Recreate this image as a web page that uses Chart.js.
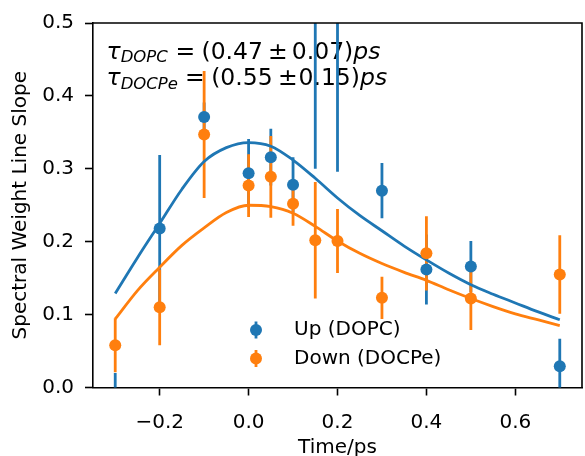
<!DOCTYPE html>
<html>
<head>
<meta charset="utf-8">
<script src="https://cdn.jsdelivr.net/npm/chart.js@4.4.1/dist/chart.umd.min.js"></script>
<style>
  html, body { margin: 0; padding: 0; background: #fff; overflow: hidden; }
  #wrap { position: relative; width: 588px; height: 456px; }
</style>
</head>
<body>
<div id="wrap"><canvas id="chart"></canvas></div>
<script>
// measured points
const times = [-0.3, -0.2, -0.1, 0, 0.05, 0.1, 0.15, 0.2, 0.3, 0.4, 0.5, 0.7];
const upVals = [-0.03, 0.218, 0.371, 0.294, 0.316, 0.278, 0.56, 0.55, 0.270, 0.162, 0.166, 0.029];
const upErr = [0.05, 0.101, 0.02, 0.047, 0.039, 0.038, 0.26, 0.254, 0.038, 0.048, 0.035, 0.038];
const downVals = [0.058, 0.110, 0.347, 0.277, 0.289, 0.252, 0.202, 0.201, 0.123, 0.184, 0.122, 0.155];
const downErr = [0.037, 0.052, 0.087, 0.043, 0.056, 0.030, 0.080, 0.044, 0.029, 0.051, 0.043, 0.054];

// fit curves
const fitTimes = [-0.3, -0.25, -0.2, -0.15, -0.1, -0.05, 0, 0.05, 0.1, 0.15, 0.2, 0.25, 0.3, 0.35, 0.4, 0.45, 0.5, 0.55, 0.6, 0.65, 0.7];
const upFit = [0.129, 0.178, 0.225, 0.272, 0.310, 0.329, 0.336, 0.331, 0.312, 0.287, 0.260, 0.236, 0.215, 0.194, 0.175, 0.157, 0.141, 0.128, 0.116, 0.104, 0.093];
const downFit = [0.094, 0.133, 0.165, 0.195, 0.219, 0.240, 0.250, 0.248, 0.239, 0.221, 0.201, 0.184, 0.170, 0.158, 0.147, 0.134, 0.122, 0.111, 0.101, 0.093, 0.085];

const xTicks = [-0.2, 0, 0.2, 0.4, 0.6];
const xTickLabels = ["\u22120.2", "0.0", "0.2", "0.4", "0.6"];
const yTicks = [0, 0.1, 0.2, 0.3, 0.4, 0.5];
const yTickLabels = ["0.0", "0.1", "0.2", "0.3", "0.4", "0.5"];

const seriesNames = ["Up (DOPC)", "Down (DOCPe)"];
const tauSubs = ["DOPC", "DOCPe"];
const tauMeans = ["(0.47", "(0.55"];
const tauErrs = ["0.07)", "0.15)"];

const BLUE = "#1f77b4";
const ORANGE = "#ff7f0e";
const FONT = '"DejaVu Sans"';

const pts = (xs, ys) => xs.map((x, i) => ({ x: x, y: ys[i] }));

// tau annotation, under the data (mathtext-like spacing)
const tauText = {
  id: "tauText",
  beforeDatasetsDraw(chart) {
    const ctx = chart.ctx;
    ctx.save();
    ctx.fillStyle = "#000";
    ctx.textBaseline = "alphabetic";
    ctx.textAlign = "left";
    const rows = [
      { y: 58.5, eq: 175.5, mean: 201.5, pm: 268, err: 291.8 },
      { y: 85.2, eq: 185, mean: 211.2, pm: 278, err: 298.5 }
    ];
    rows.forEach((r, i) => {
      ctx.font = "italic 23.5px " + FONT;
      ctx.fillText("\u03c4", 106.5, r.y);
      const tw = ctx.measureText("\u03c4").width;
      ctx.font = "italic 16.5px " + FONT;
      ctx.fillText(tauSubs[i], 106.5 + tw, r.y + 3.4);
      ctx.font = "23.5px " + FONT;
      ctx.fillText("=", r.eq, r.y);
      ctx.fillText(tauMeans[i], r.mean, r.y);
      ctx.fillText("\u00b1", r.pm, r.y);
      ctx.fillText(tauErrs[i], r.err, r.y);
      const ew = ctx.measureText(tauErrs[i]).width;
      ctx.font = "italic 23.5px " + FONT;
      ctx.fillText("ps", r.err + ew, r.y);
    });
    ctx.restore();
  }
};

// vertical error bars, under the markers
const errorBars = {
  id: "errorBars",
  beforeDatasetsDraw(chart) {
    const { ctx, chartArea: a, scales: { x, y } } = chart;
    ctx.save();
    ctx.beginPath();
    ctx.rect(a.left, a.top, a.right - a.left, a.bottom - a.top);
    ctx.clip();
    chart.data.datasets.forEach(ds => {
      if (!ds.errors) return;
      ctx.strokeStyle = ds.backgroundColor;
      ctx.lineWidth = 2.8;
      ds.data.forEach((p, i) => {
        const px = x.getPixelForValue(p.x);
        ctx.beginPath();
        ctx.moveTo(px, y.getPixelForValue(p.y - ds.errors[i]));
        ctx.lineTo(px, y.getPixelForValue(p.y + ds.errors[i]));
        ctx.stroke();
      });
    });
    ctx.restore();
  }
};

// legend inside the axes + top spine
const innerLegend = {
  id: "innerLegend",
  afterDatasetsDraw(chart) {
    const { ctx, chartArea: a } = chart;
    ctx.save();
    const colors = [BLUE, ORANGE];
    seriesNames.forEach((name, i) => {
      const cy = 330 + i * 28.5;
      ctx.strokeStyle = colors[i];
      ctx.lineWidth = 2.8;
      ctx.beginPath();
      ctx.moveTo(256, cy - 8.5);
      ctx.lineTo(256, cy + 8.5);
      ctx.stroke();
      ctx.fillStyle = colors[i];
      ctx.beginPath();
      ctx.arc(256, cy, 6, 0, Math.PI * 2);
      ctx.fill();
      ctx.fillStyle = "#000";
      ctx.font = "20px " + FONT;
      ctx.textBaseline = "middle";
      ctx.fillText(name, 294, cy);
    });
    ctx.strokeStyle = "#000";
    ctx.lineWidth = 1.6;
    ctx.beginPath();
    ctx.moveTo(a.left - 0.8, a.top);
    ctx.lineTo(a.right, a.top);
    ctx.lineTo(a.right, a.bottom);
    ctx.stroke();
    ctx.restore();
  }
};

Chart.defaults.font.family = FONT;
Chart.defaults.font.size = 20;
Chart.defaults.color = "#000";

new Chart(document.getElementById("chart"), {
  type: "scatter",
  data: {
    datasets: [
      {
        label: seriesNames[0],
        data: pts(times, upVals),
        errors: upErr,
        backgroundColor: BLUE,
        borderWidth: 0,
        pointRadius: 6,
        clip: 0,
        order: 2
      },
      {
        label: seriesNames[1],
        data: pts(times, downVals),
        errors: downErr,
        backgroundColor: ORANGE,
        borderWidth: 0,
        pointRadius: 6,
        clip: 0,
        order: 1
      },
      {
        type: "line",
        label: "fit up",
        data: pts(fitTimes, upFit),
        borderColor: BLUE,
        borderWidth: 2.8,
        pointRadius: 0,
        fill: false,
        cubicInterpolationMode: "monotone",
        order: 4
      },
      {
        type: "line",
        label: "fit down",
        data: pts(fitTimes, downFit),
        borderColor: ORANGE,
        borderWidth: 2.8,
        pointRadius: 0,
        fill: false,
        cubicInterpolationMode: "monotone",
        order: 3
      }
    ]
  },
  options: {
    responsive: true,
    maintainAspectRatio: false,
    animation: false,
    layout: { padding: { top: 22, right: 1.6, left: 0, bottom: 0 } },
    plugins: { legend: { display: false }, tooltip: { enabled: false } },
    scales: {
      x: {
        type: "linear",
        min: -0.35,
        max: 0.75,
        afterBuildTicks: s => { s.ticks = xTicks.map(v => ({ value: v })); },
        afterFit: s => { s.height = 68.5; },
        ticks: { padding: 15, callback: (v, i) => xTickLabels[i] },
        grid: { drawOnChartArea: false, drawTicks: true, tickLength: 8, tickWidth: 1.6, tickColor: "#000" },
        border: { display: true, color: "#000", width: 1.6 },
        title: { display: true, text: "Time/ps", padding: { top: 0, bottom: -4 } }
      },
      y: {
        min: 0,
        max: 0.5,
        afterBuildTicks: s => { s.ticks = yTicks.map(v => ({ value: v })); },
        afterFit: s => { s.width = 93; },
        ticks: { padding: 11, callback: (v, i) => yTickLabels[i] },
        grid: { drawOnChartArea: false, drawTicks: true, tickLength: 8, tickWidth: 1.6, tickColor: "#000" },
        border: { display: true, color: "#000", width: 1.6 },
        title: { display: true, text: "Spectral Weight Line Slope", padding: { top: 9, bottom: 0 } }
      }
    }
  },
  plugins: [tauText, errorBars, innerLegend]
});
</script>
</body>
</html>
